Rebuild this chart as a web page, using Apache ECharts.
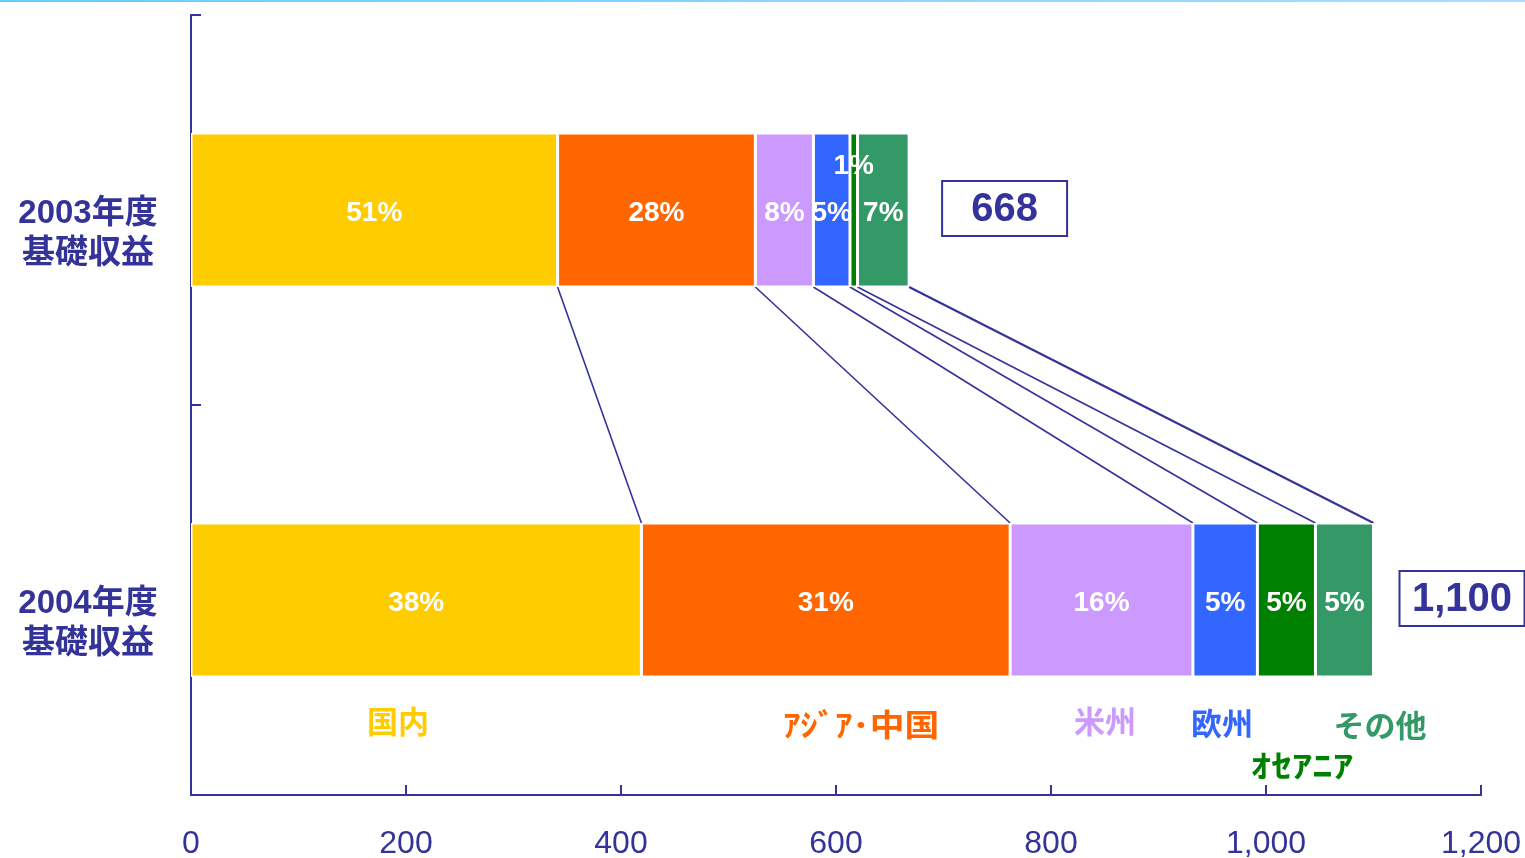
<!DOCTYPE html>
<html>
<head>
<meta charset="utf-8">
<script src="https://cdn.jsdelivr.net/npm/echarts@6/dist/echarts.min.js"></script>
<style>
  html, body { margin: 0; padding: 0; background: #fff; }
  #chart { width: 1525px; height: 858px; }
</style>
</head>
<body>
<div id="chart"></div>
<script>
  const categories = ['2003年度\n基礎収益', '2004年度\n基礎収益']
  const regions = ['国内', 'ｱｼﾞｱ･中国', '米州', '欧州', 'ｵｾｱﾆｱ', 'その他']
  const colors = ['#FFCC00', '#FF6600', '#CC99FF', '#3366FF', '#008000', '#339966']
  const values2003 = [341, 184, 54, 34, 7, 48]
  const values2004 = [419, 343, 170, 60, 54, 54]
  const pct2003 = [51, 28, 8, 5, 1, 7]
  const pct2004 = [38, 31, 16, 5, 5, 5]
  const totals = [668, 1100]
  const totalLabels = ['668', '1,100']
  const xTicks = [0, 200, 400, 600, 800, 1000, 1200]

  const navy = '#333399'
  const font = "'Liberation Sans', 'Noto Sans CJK JP', sans-serif"
  const barWidth = 154

  let chart = echarts.init(document.getElementById('chart'))

  // cumulative boundaries for the connecting lines
  let cum03 = 0, cum04 = 0
  const links = []
  for (let i = 0; i < regions.length; i++) {
    cum03 += values2003[i]
    cum04 += values2004[i]
    links.push([cum03, cum04])
  }

  const barSeries = regions.map((name, i) => ({
    name: name,
    type: 'bar',
    stack: 'total',
    barWidth: barWidth,
    itemStyle: { color: colors[i], borderColor: '#fff', borderWidth: 1.5 },
    label: {
      show: true,
      position: 'inside',
      offset: [0, 3],
      color: '#fff',
      fontSize: 28,
      fontWeight: 'bold',
      fontFamily: font,
      formatter: p => (p.dataIndex === 0 ? pct2003[i] : pct2004[i]) + '%'
    },
    data: [
      i === 4 ? { value: values2003[i], label: { offset: [0, -44] } } : values2003[i],
      values2004[i]
    ],
    z: 3
  }))

  const boxGap = [33, 26]

  const option = {
    animation: false,
    grid: { left: 191, right: 44, top: 15, bottom: 63, containLabel: false, outerBoundsMode: 'none' },
    xAxis: {
      type: 'value',
      min: 0,
      max: 1200,
      interval: 200,
      axisLine: { show: true, lineStyle: { color: navy, width: 2 } },
      axisTick: { show: true, inside: true, length: 10, lineStyle: { color: navy, width: 2 } },
      splitLine: { show: false },
      axisLabel: {
        margin: 33,
        color: navy,
        fontSize: 32,
        fontFamily: font,
        formatter: v => xTicks.includes(v) ? v.toLocaleString('en-US') : ''
      }
    },
    yAxis: {
      type: 'category',
      data: categories,
      inverse: true,
      axisLine: { show: true, lineStyle: { color: navy, width: 2 } },
      axisTick: { show: true, inside: true, length: 10, lineStyle: { color: navy, width: 2 } },
      axisLabel: {
        margin: 103,
        align: 'center',
        color: navy,
        fontSize: 33,
        fontWeight: 'bold',
        fontFamily: font,
        lineHeight: 40,
        formatter: v => '{s| }\n' + v,
        rich: { s: { lineHeight: 48, fontSize: 10 } }
      }
    },
    graphic: [
      {
        type: 'rect',
        shape: { x: 0, y: 0, width: 1525, height: 2 },
        style: {
          fill: new echarts.graphic.LinearGradient(0, 0, 1, 0, [
            { offset: 0, color: '#66CCFF' },
            { offset: 1, color: '#A8DDFF' }
          ])
        }
      },
      ...regions.map((name, i) => ({
        type: 'text',
        x: [398, 861, 1105, 1222, 1302, 1380][i],
        y: [724, 727, 724, 726, 768, 728][i],
        scaleX: [1, 1.12, 1, 1, 1.32, 1][i],
        style: {
          text: name,
          fill: colors[i],
          font: 'bold 31px ' + font,
          align: 'center',
          verticalAlign: 'middle'
        }
      }))
    ],
    series: [
      ...barSeries,
      {
        name: 'links',
        type: 'custom',
        z: 2,
        silent: true,
        data: links,
        renderItem: (params, api) => {
          const p1 = api.coord([api.value(0), 0])
          const p2 = api.coord([api.value(1), 1])
          return {
            type: 'line',
            shape: { x1: p1[0], y1: p1[1] + barWidth / 2, x2: p2[0], y2: p2[1] - barWidth / 2 },
            style: { stroke: navy, lineWidth: params.dataIndex === 5 ? 2.2 : 1.6 }
          }
        }
      },
      {
        name: 'totals',
        type: 'custom',
        z: 4,
        silent: true,
        data: totals.map((t, i) => [t, i]),
        renderItem: (params, api) => {
          const idx = params.dataIndex
          const p = api.coord([api.value(0), api.value(1)])
          const x = p[0] + boxGap[idx]
          return {
            type: 'group',
            children: [
              {
                type: 'rect',
                shape: { x: x, y: p[1] - 29, width: 125, height: 55 },
                style: { fill: '#fff', stroke: navy, lineWidth: 2 }
              },
              {
                type: 'text',
                x: x + 62.5,
                y: p[1],
                style: {
                  text: totalLabels[idx],
                  fill: navy,
                  font: 'bold 40px ' + font,
                  align: 'center',
                  verticalAlign: 'middle'
                }
              }
            ]
          }
        }
      }
    ]
  }

  chart.setOption(option)
  window.onresize = () => chart.resize()
</script>
</body>
</html>
